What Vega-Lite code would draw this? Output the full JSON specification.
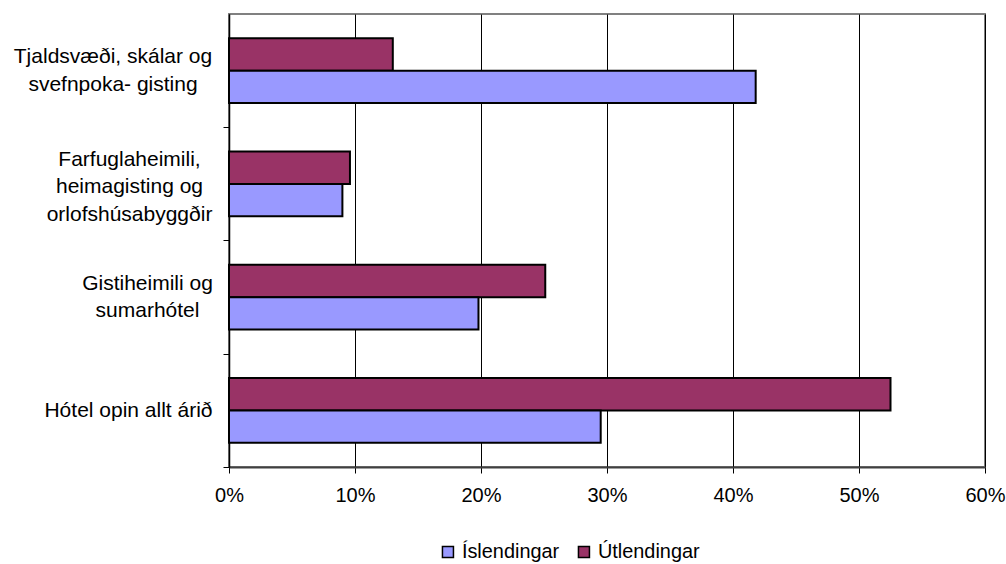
{
  "$schema": "https://vega.github.io/schema/vega-lite/v6.json",
  "autosize": "none",
  "width": 756,
  "height": 453,
  "padding": {"left": 229, "top": 14, "right": 21, "bottom": 97},
  "background": "white",
  "config": {
    "font": "Liberation Sans",
    "view": {"stroke": "#808080", "strokeWidth": 2}
  },
  "data": {
    "values": [
      {"gisting": "Tjaldsvæði, skálar og|svefnpoka- gisting", "hopur": "Útlendingar", "hlutfall": 0.130},
      {"gisting": "Tjaldsvæði, skálar og|svefnpoka- gisting", "hopur": "Íslendingar", "hlutfall": 0.418},
      {"gisting": "Farfuglaheimili,|heimagisting og|orlofshúsabyggðir", "hopur": "Útlendingar", "hlutfall": 0.096},
      {"gisting": "Farfuglaheimili,|heimagisting og|orlofshúsabyggðir", "hopur": "Íslendingar", "hlutfall": 0.090},
      {"gisting": "Gistiheimili og|sumarhótel", "hopur": "Útlendingar", "hlutfall": 0.251},
      {"gisting": "Gistiheimili og|sumarhótel", "hopur": "Íslendingar", "hlutfall": 0.198},
      {"gisting": "Hótel opin allt árið", "hopur": "Útlendingar", "hlutfall": 0.525},
      {"gisting": "Hótel opin allt árið", "hopur": "Íslendingar", "hlutfall": 0.295}
    ]
  },
  "mark": {"type": "bar", "stroke": "black", "strokeWidth": 2},
  "encoding": {
    "y": {
      "field": "gisting",
      "type": "nominal",
      "sort": null,
      "title": null,
      "scale": {"paddingInner": 0.43, "paddingOuter": 0.215},
      "axis": {
        "tickSize": 6,
        "tickColor": "black",
        "tickOffset": 56.6,
        "labelOffset": {
          "condition": [
            {"test": "indexof(datum.value, 'Farfugla') == 0", "value": -81},
            {"test": "indexof(datum.value, '|') > 0", "value": -70.35}
          ],
          "value": -56.6
        },
        "labelPadding": {
          "condition": [
            {"test": "indexof(datum.value, 'Tjald') == 0", "value": 110.5},
            {"test": "indexof(datum.value, 'Farfugla') == 0", "value": 94},
            {"test": "indexof(datum.value, 'Gisti') == 0", "value": 76}
          ],
          "value": 95
        },
        "domainColor": "black",
        "domainWidth": 1.5,
        "labelFontSize": 21,
        "labelColor": "black",
        "labelAlign": "center",
        "labelLineHeight": 27.5,
        "labelLimit": 300,
        "labelExpr": "split(datum.label, '|')"
      }
    },
    "yOffset": {
      "field": "hopur",
      "type": "nominal",
      "sort": ["Útlendingar", "Íslendingar"],
      "scale": {"paddingInner": 0, "paddingOuter": 0}
    },
    "x": {
      "field": "hlutfall",
      "type": "quantitative",
      "title": null,
      "scale": {"domain": [0, 0.6], "nice": false},
      "axis": {
        "values": [0, 0.1, 0.2, 0.3, 0.4, 0.5, 0.6],
        "format": ".0%",
        "grid": true,
        "gridColor": "black",
        "gridWidth": 1,
        "gridOpacity": 1,
        "tickSize": 6,
        "tickColor": "black",
        "domainColor": "#404040",
        "domainWidth": 2,
        "labelFontSize": 20,
        "labelColor": "black",
        "labelPadding": 12,
        "labelFlush": false
      }
    },
    "color": {
      "field": "hopur",
      "type": "nominal",
      "title": null,
      "scale": {"domain": ["Íslendingar", "Útlendingar"], "range": ["#9999FF", "#993366"]},
      "legend": {
        "orient": "none",
        "direction": "horizontal",
        "legendX": 209,
        "legendY": 528,
        "symbolType": "square",
        "symbolSize": 121,
        "symbolStrokeColor": "black",
        "symbolStrokeWidth": 1.5,
        "symbolOpacity": 1,
        "labelFontSize": 19.9,
        "labelColor": "black",
        "labelOffset": 4,
        "columnPadding": 14
      }
    }
  }
}
